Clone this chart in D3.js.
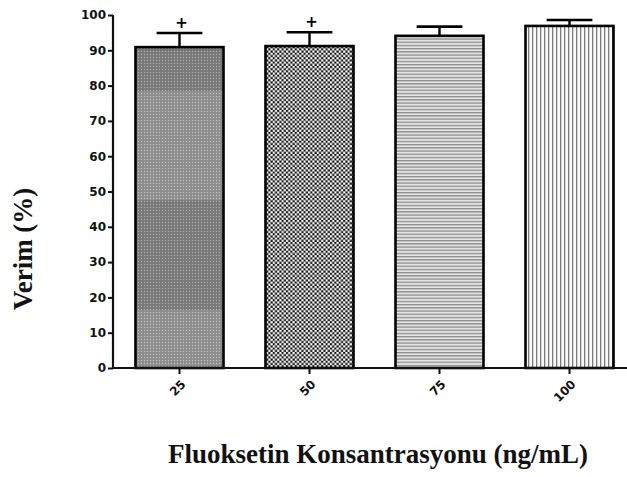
<!DOCTYPE html>
<html>
<head>
<meta charset="utf-8">
<script src="https://cdn.jsdelivr.net/npm/d3@7"></script>
<style>
  body { margin: 0; background: #fff; }
  svg { display: block; }
</style>
</head>
<body>
<svg width="627" height="477"></svg>
<script>
(function(){
  var categories = ["25", "50", "75", "100"];
  var means = [90.9, 91.2, 94.1, 96.9];
  var errors = [4.0, 3.9, 2.6, 1.7];
  var marks = ["+", "+", "", ""];
  var yTicks = [0, 10, 20, 30, 40, 50, 60, 70, 80, 90, 100];
  // shading bands of the first bar, in axis units
  var bands = [[100, 78.5, 0.08], [78.5, 47.5, -0.08], [47.5, 16.5, 0.08], [16.5, 0, -0.08]];

  var svg = d3.select("svg");

  var x = d3.scaleBand().domain(categories).range([113, 636])
    .paddingInner(0.323).paddingOuter(0.173);
  var y = d3.scaleLinear().domain([0, 100]).range([368, 15]);

  var defs = svg.append("defs");

  // bar 1: fine grey dots
  var p1 = defs.append("pattern").attr("id", "p1").attr("patternUnits", "userSpaceOnUse")
    .attr("width", 3).attr("height", 3);
  p1.append("rect").attr("width", 3).attr("height", 3).attr("fill", "#8a8a8a");
  p1.append("rect").attr("width", 1).attr("height", 1).attr("fill", "#bdbdbd");
  p1.append("rect").attr("x", 1.5).attr("y", 1.5).attr("width", 1).attr("height", 1).attr("fill", "#6a6a6a");

  // bar 2: checker
  var p2 = defs.append("pattern").attr("id", "p2").attr("patternUnits", "userSpaceOnUse")
    .attr("width", 4.4).attr("height", 4.4);
  p2.append("rect").attr("width", 4.4).attr("height", 4.4).attr("fill", "#7a7a7a");
  p2.append("rect").attr("width", 2).attr("height", 2).attr("fill", "#111");
  p2.append("rect").attr("x", 2.2).attr("y", 2.2).attr("width", 2).attr("height", 2).attr("fill", "#111");
  p2.append("rect").attr("x", 2.2).attr("width", 2).attr("height", 2).attr("fill", "#fff");
  p2.append("rect").attr("y", 2.2).attr("width", 2).attr("height", 2).attr("fill", "#fff");

  // bar 3: horizontal lines
  var p3 = defs.append("pattern").attr("id", "p3").attr("patternUnits", "userSpaceOnUse")
    .attr("width", 4).attr("height", 3.2);
  p3.append("rect").attr("width", 4).attr("height", 3.2).attr("fill", "#e4e4e4");
  p3.append("rect").attr("width", 4).attr("height", 1.3).attr("fill", "#8c8c8c");

  // bar 4: vertical lines
  var p4 = defs.append("pattern").attr("id", "p4").attr("patternUnits", "userSpaceOnUse")
    .attr("width", 4).attr("height", 4);
  p4.append("rect").attr("width", 4).attr("height", 4).attr("fill", "#fafafa");
  p4.append("rect").attr("width", 1.3).attr("height", 4).attr("fill", "#7c7c7c");

  var fills = ["url(#p1)", "url(#p2)", "url(#p3)", "url(#p4)"];

  var g = svg.append("g");

  g.selectAll("rect.bar").data(means).enter().append("rect")
    .attr("class", "bar")
    .attr("x", function(d, i){ return x(categories[i]); })
    .attr("y", function(d){ return y(d); })
    .attr("width", x.bandwidth())
    .attr("height", function(d){ return y(0) - y(d); })
    .attr("fill", function(d, i){ return fills[i]; });

  // shading on bar 1
  g.selectAll("rect.band").data(bands).enter().append("rect")
    .attr("class", "band")
    .attr("x", x(categories[0]))
    .attr("y", function(d){ return y(Math.min(d[0], means[0])); })
    .attr("width", x.bandwidth())
    .attr("height", function(d){ return y(d[1]) - y(Math.min(d[0], means[0])); })
    .attr("fill", function(d){ return d[2] > 0 ? "#000" : "#fff"; })
    .attr("fill-opacity", function(d){ return Math.abs(d[2]); });

  g.selectAll("rect.outline").data(means).enter().append("rect")
    .attr("class", "outline")
    .attr("x", function(d, i){ return x(categories[i]); })
    .attr("y", function(d){ return y(d); })
    .attr("width", x.bandwidth())
    .attr("height", function(d){ return y(0) - y(d); })
    .attr("fill", "none")
    .attr("stroke", "#000")
    .attr("stroke-width", 2.6);

  var cx = function(i){ return x(categories[i]) + x.bandwidth() / 2; };
  var capW = x.bandwidth() * 0.26;

  g.selectAll("line.err").data(means).enter().append("line")
    .attr("class", "err")
    .attr("x1", function(d, i){ return cx(i); })
    .attr("x2", function(d, i){ return cx(i); })
    .attr("y1", function(d){ return y(d); })
    .attr("y2", function(d, i){ return y(d + errors[i]); })
    .attr("stroke", "#000").attr("stroke-width", 2.4);

  g.selectAll("line.cap").data(means).enter().append("line")
    .attr("class", "cap")
    .attr("x1", function(d, i){ return cx(i) - capW; })
    .attr("x2", function(d, i){ return cx(i) + capW; })
    .attr("y1", function(d, i){ return y(d + errors[i]); })
    .attr("y2", function(d, i){ return y(d + errors[i]); })
    .attr("stroke", "#000").attr("stroke-width", 2.6);

  g.selectAll("text.mark").data(marks).enter().append("text")
    .attr("class", "mark")
    .attr("x", function(d, i){ return cx(i) + 2; })
    .attr("y", function(d, i){ return y(means[i] + errors[i]) - 5; })
    .attr("text-anchor", "middle")
    .style("font", "bold 15px 'DejaVu Sans', sans-serif")
    .text(function(d){ return d; });

  // axes
  var yAxis = svg.append("g").attr("transform", "translate(113,0)")
    .call(d3.axisLeft(y).tickValues(yTicks).tickSize(5).tickPadding(2));
  var xAxis = svg.append("g").attr("transform", "translate(0,368)")
    .call(d3.axisBottom(x).tickSize(6).tickFormat(function(){ return ""; }));

  [yAxis, xAxis].forEach(function(a){
    a.select(".domain").attr("stroke", "#111").attr("stroke-width", 2.2);
    a.selectAll(".tick line").attr("stroke", "#111").attr("stroke-width", 2);
  });
  xAxis.select(".domain").attr("d", "M113,0H636");
  yAxis.select(".domain").attr("d", "M0,368V15");
  yAxis.selectAll(".tick text")
    .style("font", "bold 12px 'DejaVu Sans', sans-serif").attr("fill", "#111");

  svg.append("g").selectAll("text").data(categories).enter().append("text")
    .attr("transform", function(d){ return "translate(" + (x(d) + x.bandwidth() / 2 + 7) + ",385) rotate(-45)"; })
    .attr("text-anchor", "end")
    .style("font", "bold 12px 'DejaVu Sans', sans-serif")
    .attr("fill", "#111")
    .text(function(d){ return d; });

  svg.append("text")
    .attr("transform", "translate(32,249) rotate(-90)")
    .attr("text-anchor", "middle")
    .style("font", "bold 27px 'Liberation Serif', 'Times New Roman', serif")
    .attr("fill", "#111")
    .text("Verim (%)");

  svg.append("text")
    .attr("x", 378).attr("y", 463)
    .attr("text-anchor", "middle")
    .style("font", "bold 27px 'Liberation Serif', 'Times New Roman', serif")
    .attr("fill", "#111")
    .text("Fluoksetin Konsantrasyonu (ng/mL)");
})();
</script>
</body>
</html>
